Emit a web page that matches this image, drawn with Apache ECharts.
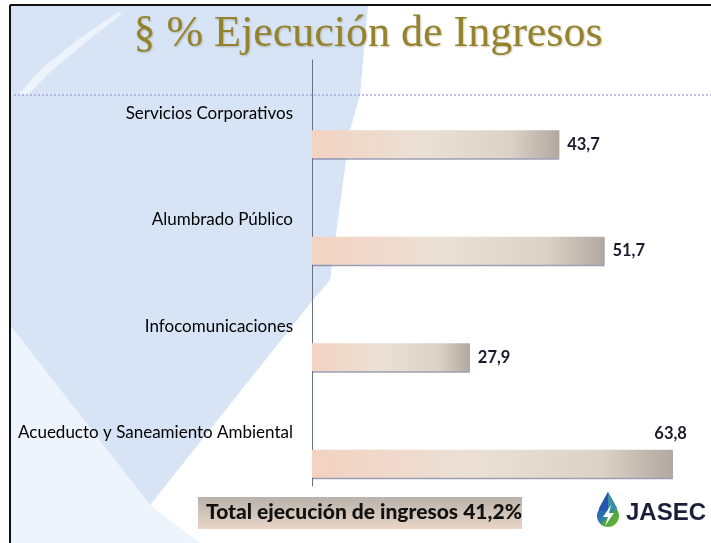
<!DOCTYPE html>
<html>
<head>
<meta charset="utf-8">
<script src="https://cdn.jsdelivr.net/npm/echarts@6/dist/echarts.min.js"></script>
<style>
html,body{margin:0;padding:0;background:#fff;}
#c{width:711px;height:543px;}
</style>
</head>
<body>
<div id="c"></div>
<script>
var categories = ['Servicios Corporativos', 'Alumbrado Público', 'Infocomunicaciones', 'Acueducto y Saneamiento Ambiental'];
var values = [43.7, 51.7, 27.9, 63.8];
var titleText = '§ % Ejecución de Ingresos';
var totalText = 'Total ejecución de ingresos 41,2%';

var chart = echarts.init(document.getElementById('c'), null, {renderer: 'canvas'});

var barGrad = new echarts.graphic.LinearGradient(0, 0, 1, 0, [
  {offset: 0, color: '#f3d2c1'},
  {offset: 0.45, color: '#ebe0d6'},
  {offset: 0.8, color: '#dcd2c8'},
  {offset: 1, color: '#b1a89f'}
]);

var realData = values.map(function (v, i) {
  var d = {value: v};
  if (i === values.length - 1) {
    d.label = {position: ['100%', 0], offset: [14, -8], align: 'right', verticalAlign: 'bottom'};
  }
  return d;
});

var dropGrad = new echarts.graphic.LinearGradient(0, 0, 1, 1, [
  {offset: 0, color: '#2456b0'}, {offset: 0.48, color: '#2f7fb5'}, {offset: 0.55, color: '#4fa43a'}, {offset: 1, color: '#6bb83a'}]);

var option = {
  backgroundColor: '#ffffff',
  animation: false,
  title: {
    text: titleText,
    left: 363, top: 7, textAlign: 'center',
    textStyle: {fontFamily: 'Liberation Serif', fontSize: 44, fontWeight: 'normal', color: '#94822c',
      textShadowColor: 'rgba(90,70,20,0.3)', textShadowBlur: 2, textShadowOffsetX: 1, textShadowOffsetY: 1}
  },
  graphic: [
    {type: 'polygon', z: -10, silent: true,
      shape: {points: [[10, 5], [368, 5], [360, 95], [350, 130], [330, 280], [313, 300], [150, 505], [10, 325]]},
      style: {fill: '#d6e4f6'}},
    {type: 'polygon', z: -11, silent: true,
      shape: {points: [[10, 325], [150, 505], [200, 543], [10, 543]]},
      style: {fill: '#eef4fb'}},
    {type: 'polygon', z: -9, silent: true,
      shape: {points: [[18, 95], [40, 70], [80, 38], [118, 12], [122, 14], [86, 42], [48, 74], [28, 95]]},
      style: {fill: 'rgba(255,255,255,0.55)'}},
    {type: 'line', z: -5, silent: true,
      shape: {x1: 14, y1: 95, x2: 711, y2: 95},
      style: {stroke: 'rgba(150,150,215,0.6)', lineWidth: 2, lineDash: [2, 2]}},
    {type: 'line', z: 10, silent: true,
      shape: {x1: 10, y1: 5, x2: 711, y2: 5},
      style: {stroke: '#111', lineWidth: 2}},
    {type: 'line', z: 10, silent: true,
      shape: {x1: 10, y1: 5, x2: 10, y2: 543},
      style: {stroke: '#111', lineWidth: 2}},
    {type: 'rect', z: 5, silent: true,
      shape: {x: 198, y: 497, width: 324, height: 32},
      style: {fill: new echarts.graphic.LinearGradient(0, 0, 0, 1, [
        {offset: 0, color: '#b9b1aa'}, {offset: 0.6, color: '#d6c8bd'}, {offset: 1, color: '#ead4c6'}])}},
    {type: 'text', z: 6, silent: true, x: 206, y: 502,
      style: {text: totalText, fontFamily: 'Lato', fontWeight: 900, fontSize: 21, fill: '#111111'}},
    {type: 'polygon', z: 6, silent: true,
      shape: {points: [[608, 492], [599, 508], [617, 508]]},
      style: {fill: '#2a62b0'}},
    {type: 'circle', z: 6, silent: true,
      shape: {cx: 608, cy: 516, r: 11},
      style: {fill: dropGrad}},
    {type: 'polygon', z: 6, silent: true,
      shape: {points: [[608, 492], [598.5, 510], [608, 512]]},
      style: {fill: '#2456b0'}},
    {type: 'polygon', z: 6, silent: true,
      shape: {points: [[608, 492], [617.5, 510], [608, 512]]},
      style: {fill: '#3a8fa0'}},
    {type: 'polygon', z: 7, silent: true,
      shape: {points: [[611, 505], [603, 517], [608, 517], [605, 526], [614, 513], [609, 513]]},
      style: {fill: '#ffffff'}},
    {type: 'text', z: 6, silent: true, x: 626, y: 501,
      style: {text: 'JASEC', font: 'bold 24px "Liberation Sans"', fill: '#1c1f3a'}}
  ],
  grid: {left: 312, right: 3, top: 60, bottom: 57, containLabel: false},
  xAxis: {type: 'value', min: 0, max: 70, show: false},
  yAxis: {
    type: 'category', data: categories, inverse: true,
    axisLine: {show: true, lineStyle: {color: '#6c7080', width: 1}},
    axisTick: {show: false},
    axisLabel: {margin: 19, fontFamily: 'Lato', fontSize: 17, color: '#000000'}
  },
  series: [
    {type: 'bar', name: 'pad', data: values.map(function () { return '-'; }), barWidth: 28, barGap: '121%', silent: true},
    {type: 'bar', name: 'Ejecución', data: realData, barWidth: 28, barGap: '121%',
      itemStyle: {color: barGrad, shadowColor: 'rgba(90,95,130,0.6)', shadowOffsetY: 1.5, shadowBlur: 0},
      label: {show: true, position: 'right', distance: 8, fontFamily: 'Lato', fontWeight: 'bold', fontSize: 16.5, color: '#1a1a2c',
        formatter: function (p) { return String(p.value).replace('.', ','); }}}
  ]
};
chart.setOption(option);
</script>
</body>
</html>
